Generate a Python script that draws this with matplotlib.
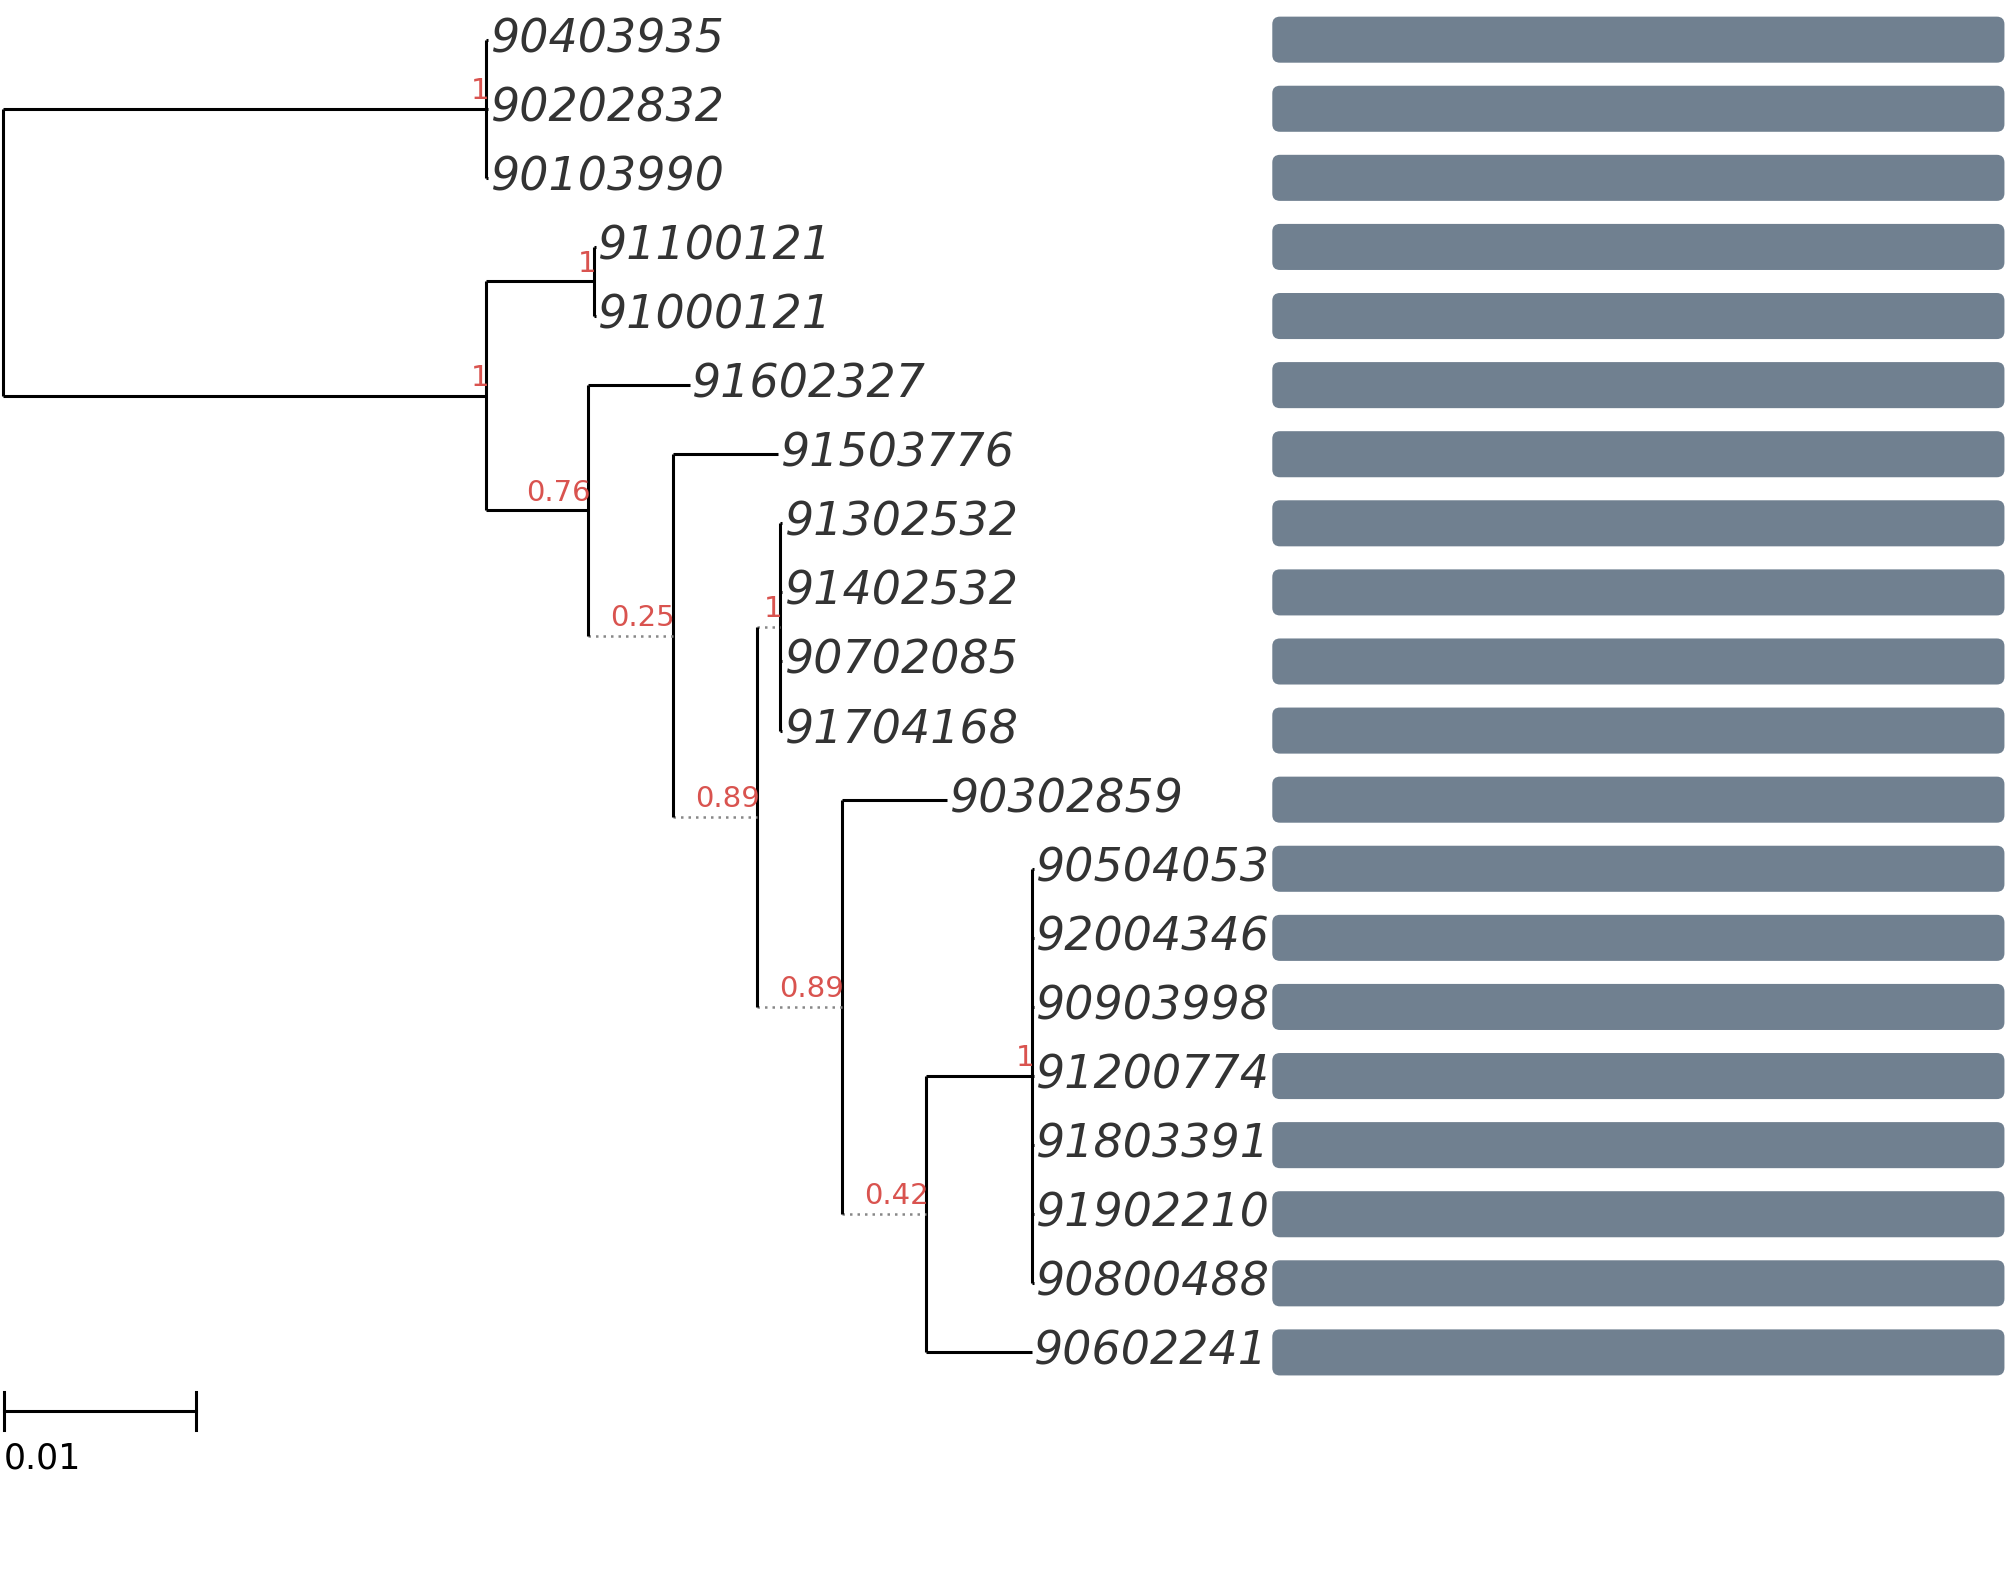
import matplotlib.pyplot as plt
from matplotlib.patches import FancyBboxPatch

# tree: (name, branch_length, support, dotted, children)
tree = ("root", 0.0, None, False, [
    ("A", 0.0252, 1, False, [
        ("90403935", 0.0001, None, False, []),
        ("90202832", 0.0001, None, False, []),
        ("90103990", 0.0001, None, False, []),
    ]),
    ("B", 0.0252, 1, False, [
        ("C", 0.0056, 1, False, [
            ("91100121", 0.0001, None, False, []),
            ("91000121", 0.0001, None, False, []),
        ]),
        ("N76", 0.0053, 0.76, False, [
            ("91602327", 0.0053, None, False, []),
            ("N25", 0.0044, 0.25, True, [
                ("91503776", 0.0055, None, False, []),
                ("N89a", 0.0044, 0.89, True, [
                    ("N1a", 0.0012, 1, True, [
                        ("91302532", 0.0001, None, False, []),
                        ("91402532", 0.0001, None, False, []),
                        ("90702085", 0.0001, None, False, []),
                        ("91704168", 0.0001, None, False, []),
                    ]),
                    ("N89b", 0.0044, 0.89, True, [
                        ("90302859", 0.0055, None, False, []),
                        ("N42", 0.0044, 0.42, True, [
                            ("N1b", 0.0055, 1, False, [
                                ("90504053", 0.0001, None, False, []),
                                ("92004346", 0.0001, None, False, []),
                                ("90903998", 0.0001, None, False, []),
                                ("91200774", 0.0001, None, False, []),
                                ("91803391", 0.0001, None, False, []),
                                ("91902210", 0.0001, None, False, []),
                                ("90800488", 0.0001, None, False, []),
                            ]),
                            ("90602241", 0.0055, None, False, []),
                        ]),
                    ]),
                ]),
            ]),
        ]),
    ]),
])

scale_bar = 0.01
px_per_unit = 15000.0
x0 = 2
leaf_y0, leaf_step = 31, 54
bar_x0, bar_x1, bar_h = 994, 1566, 36

fig = plt.figure(figsize=(20.07, 15.84), dpi=100)
ax = fig.add_axes([0, 0, 1, 1])
ax.set_xlim(0, 1568)
ax.set_ylim(1238, 0)
ax.axis("off")

leaves = []
lw = 2.2


def layout(node, parent_x):
    name, bl, sup, dotted, kids = node
    x = parent_x + bl * px_per_unit
    if not kids:
        y = leaf_y0 + leaf_step * len(leaves)
        leaves.append((name, x, y))
    else:
        ys = [layout(k, x) for k in kids]
        y = (ys[0] + ys[-1]) / 2
        ax.plot([x, x], [ys[0], ys[-1]], color="black", lw=lw, solid_capstyle="butt")
    if name != "root":
        if dotted:
            ax.plot([parent_x, x], [y, y], color="#888888", lw=1.8, ls=(0, (1, 2)))
        else:
            ax.plot([parent_x, x], [y, y], color="black", lw=lw, solid_capstyle="butt")
    if sup is not None:
        ax.text(x + 2, y - 3, f"{sup:g}", color="#d9534f", fontsize=21,
                ha="right", va="bottom")
    return y


layout(tree, x0)

for name, x, y in leaves:
    ax.text(x + 2, y, name, fontsize=33, style="italic", color="#333333",
            ha="left", va="center")
    ax.add_patch(FancyBboxPatch((bar_x0 + 6, y - bar_h / 2 + 6), bar_x1 - bar_x0 - 12, bar_h - 12,
                                boxstyle="round,pad=6", fc="#708090", ec="none"))

# scale bar
sb_len = scale_bar * px_per_unit
ax.plot([3, 3 + sb_len], [1103, 1103], color="black", lw=lw)
ax.plot([3, 3], [1088, 1118], color="black", lw=lw)
ax.plot([3 + sb_len, 3 + sb_len], [1088, 1118], color="black", lw=lw)
ax.text(3, 1140, f"{scale_bar:g}", fontsize=25, ha="left", va="center")

fig.savefig("out.png", dpi=100)
